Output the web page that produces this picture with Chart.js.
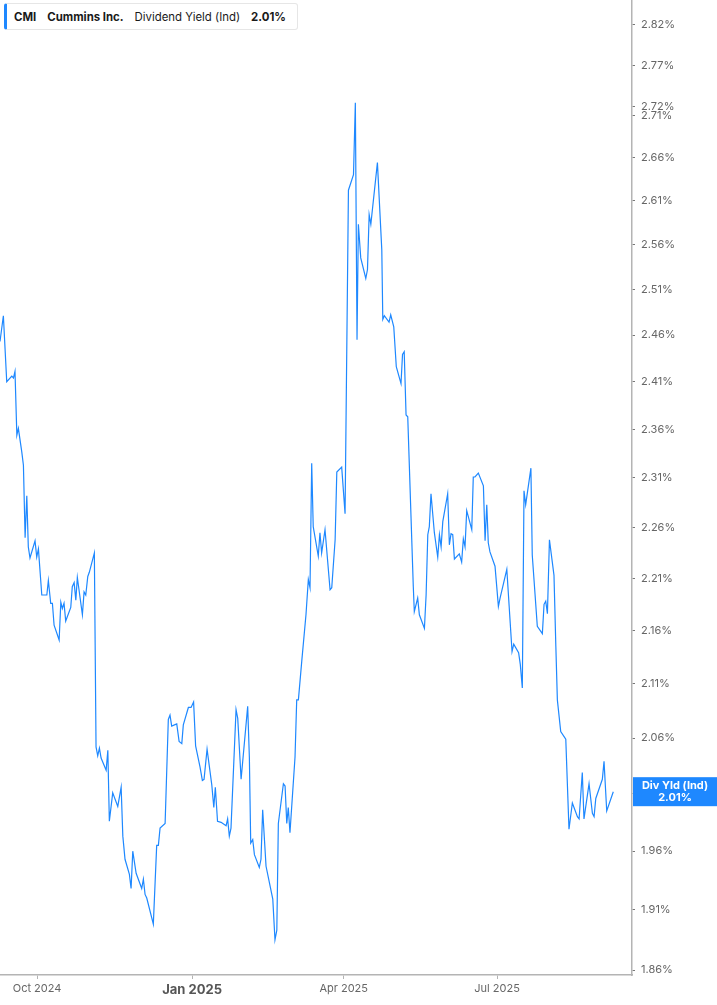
<!DOCTYPE html>
<html lang="en">
<head>
  <meta charset="UTF-8" />
  <title>CMI Dividend Yield</title>
  <script src="https://cdn.jsdelivr.net/npm/chart.js"></script>
  <style>
    html, body { margin: 0; padding: 0; background: #fff; }
    #wrap { position: relative; width: 717px; height: 1005px; }
    #legend {
      position: absolute; left: 4px; top: 3px; height: 27px; width: 294px;
      box-sizing: border-box; border: 1px solid #e6e6e6; border-left: 3px solid #1e88ff;
      border-radius: 3px; background: #fff;
      font-family: Inter, "Open Sans", sans-serif; font-size: 11.4px; color: #1a1a1a;
      display: flex; align-items: center; padding-left: 7px; white-space: nowrap;
    }
    #legend b { font-weight: 700; }
    #legend span { margin-right: 11px; }
  </style>
</head>
<body>
  <div id="wrap">
    <canvas id="yieldChart" width="717" height="1005"></canvas>
    <div id="legend">
      <span><b>CMI</b></span><span><b>Cummins Inc.</b></span><span>Dividend Yield (Ind)</span><span><b>2.01%</b></span>
    </div>
  </div>

  <script>
    // days since 2024-10-01
    const days = [
      -22.0, -20.0, -18.0, -15.0, -14.0, -13.1, -12.0, -11.1, -9.1, -8.1,
      -7.1, -6.1, -5.2, -4.2, -1.2, -0.2, 0.8, 2.8, 5.8, 6.7,
      8.1, 9.1, 10.1, 13.1, 14.1, 15.0, 16.0, 17.0, 20.0, 20.9,
      22.0, 23.0, 23.9, 26.9, 27.9, 28.9, 30.1, 31.0, 34.0, 35.0,
      36.0, 37.0, 38.0, 41.0, 42.0, 42.9, 44.9, 47.9, 49.9, 50.9,
      52.2, 54.8, 55.8, 56.8, 58.8, 62.1, 63.1, 64.1, 65.1, 69.0,
      71.0, 72.0, 73.0, 76.0, 77.9, 78.9, 79.9, 82.9, 84.3, 85.9,
      86.8, 89.8, 91.4, 92.9, 94.1, 96.7, 98.1, 99.1, 100.9, 103.7,
      104.9, 105.8, 107.1, 109.2, 112.2, 113.1, 114.1, 115.1, 118.1, 119.1,
      121.1, 125.0, 126.0, 126.8, 128.0, 129.0, 131.9, 132.9, 133.9, 135.9,
      139.9, 141.2, 142.3, 143.2, 146.2, 147.2, 148.2, 149.1, 150.1, 153.1,
      154.1, 155.1, 157.1, 159.6, 161.0, 162.0, 163.0, 163.9, 166.9, 167.9,
      168.9, 170.9, 173.9, 174.9, 176.9, 177.9, 180.8, 182.8, 184.8, 187.8,
      188.9, 189.9, 190.7, 192.1, 195.1, 196.1, 197.1, 198.1, 202.0, 204.6,
      205.2, 206.1, 208.9, 209.9, 211.7, 213.2, 216.0, 216.9, 217.9, 219.0,
      220.0, 223.3, 223.9, 225.9, 226.9, 229.9, 230.9, 231.9, 232.8, 233.8,
      235.8, 237.8, 238.8, 239.8, 240.8, 243.7, 244.7, 245.7, 246.7, 247.7,
      250.6, 252.0, 253.0, 254.0, 255.0, 258.0, 258.9, 259.9, 261.9, 264.9,
      265.9, 266.9, 267.8, 268.8, 271.8, 273.8, 274.8, 278.8, 281.9, 282.9,
      285.8, 286.8, 288.0, 289.0, 290.0, 293.1, 293.9, 296.9, 299.9, 300.9,
      301.9, 302.9, 304.1, 306.8, 307.9, 308.8, 310.8, 313.8, 315.7, 317.7,
      320.7, 321.7, 323.6, 324.6, 327.6, 329.6, 330.6, 331.6, 335.5, 336.5,
      338.1, 342.0
    ];

    // dividend yield, %
    const yields = [
      2.453, 2.481, 2.410, 2.416, 2.414, 2.421, 2.354, 2.361, 2.337, 2.323,
      2.250, 2.292, 2.241, 2.230, 2.247, 2.231, 2.239, 2.194, 2.194, 2.208,
      2.186, 2.186, 2.165, 2.151, 2.187, 2.181, 2.186, 2.169, 2.182, 2.202,
      2.206, 2.189, 2.211, 2.175, 2.197, 2.194, 2.212, 2.216, 2.235, 2.052,
      2.044, 2.051, 2.042, 2.031, 2.049, 1.986, 2.011, 1.999, 2.016, 1.973,
      1.953, 1.940, 1.928, 1.960, 1.941, 1.928, 1.936, 1.923, 1.920, 1.898,
      1.965, 1.965, 1.980, 1.984, 2.077, 2.081, 2.071, 2.073, 2.057, 2.055,
      2.072, 2.088, 2.088, 2.093, 2.053, 2.034, 2.022, 2.023, 2.050, 2.018,
      1.998, 2.016, 1.986, 1.985, 1.982, 1.988, 1.973, 1.980, 2.086, 2.078,
      2.023, 2.089, 2.043, 1.967, 1.970, 1.957, 1.946, 1.953, 1.996, 1.947,
      1.919, 1.885, 1.893, 1.984, 2.019, 2.017, 1.984, 1.998, 1.976, 2.043,
      2.095, 2.095, 2.131, 2.175, 2.209, 2.201, 2.325, 2.261, 2.232, 2.255,
      2.235, 2.258, 2.199, 2.201, 2.248, 2.316, 2.321, 2.274, 2.622, 2.640,
      2.725, 2.455, 2.583, 2.545, 2.522, 2.532, 2.594, 2.583, 2.654, 2.554,
      2.477, 2.481, 2.474, 2.482, 2.469, 2.426, 2.408, 2.439, 2.442, 2.375,
      2.373, 2.202, 2.178, 2.191, 2.175, 2.162, 2.194, 2.253, 2.261, 2.294,
      2.255, 2.231, 2.253, 2.241, 2.266, 2.294, 2.243, 2.254, 2.253, 2.229,
      2.234, 2.226, 2.249, 2.241, 2.277, 2.258, 2.311, 2.311, 2.315, 2.302,
      2.247, 2.283, 2.245, 2.236, 2.222, 2.183, 2.191, 2.219, 2.140, 2.147,
      2.139, 2.128, 2.106, 2.297, 2.283, 2.320, 2.233, 2.164, 2.157, 2.185,
      2.188, 2.176, 2.248, 2.213, 2.145, 2.095, 2.066, 2.059, 1.979, 2.002,
      1.990, 1.988, 2.029, 1.988, 2.019, 1.993, 1.990, 2.006, 2.023, 2.039,
      1.995, 2.012
    ];

    const xTickDays = [0, 92, 182, 273];
    const xTickLabels = ['Oct 2024', 'Jan 2025', 'Apr 2025', 'Jul 2025'];
    const yTicks = [1.86, 1.91, 1.96, 2.01, 2.06, 2.11, 2.16, 2.21, 2.26, 2.31, 2.36,
                    2.41, 2.46, 2.51, 2.56, 2.61, 2.66, 2.71, 2.72, 2.77, 2.82];

    const blue = '#1e88ff';
    const axisGrey = '#b4b4b4';
    const tickText = '#666';

    // blue box with the last value on the right axis
    const lastValuePlugin = {
      id: 'lastValue',
      afterDraw(chart) {
        const c = chart.ctx;
        const y = chart.scales.y.getPixelForValue(yields[yields.length - 1]);
        const left = chart.chartArea.right + 1;
        c.save();
        c.fillStyle = blue;
        c.fillRect(left, y - 14.5, 717 - left, 29);
        c.fillStyle = '#fff';
        c.textAlign = 'center';
        c.textBaseline = 'middle';
        c.font = 'bold 11px Inter, sans-serif';
        const cx = left + (717 - left) / 2;
        c.fillText('Div Yld (Ind)', cx, y - 6);
        c.fillText(yields[yields.length - 1].toFixed(2) + '%', cx, y + 6);
        c.restore();
      }
    };

    const points = days.map((d, i) => ({ x: d, y: yields[i] }));

    new Chart(document.getElementById('yieldChart'), {
      type: 'line',
      data: {
        datasets: [{
          data: points,
          borderColor: blue,
          borderWidth: 1.2,
          pointRadius: 0,
          tension: 0,
          fill: false
        }]
      },
      options: {
        responsive: false,
        animation: false,
        layout: { padding: 0 },
        plugins: { legend: { display: false }, tooltip: { enabled: false } },
        scales: {
          x: {
            type: 'linear',
            min: -22,
            max: 353.1,
            afterBuildTicks: s => { s.ticks = xTickDays.map(v => ({ value: v })); },
            afterFit: s => { s.height = 30; s.paddingLeft = 0; s.paddingRight = 0; },
            border: { color: axisGrey, width: 1.5 },
            grid: { drawOnChartArea: false, tickLength: 4, color: axisGrey },
            ticks: {
              maxRotation: 0,
              autoSkip: false,
              padding: 3,
              color: ctx => ctx.tick && ctx.tick.value === 92 ? '#555' : tickText,
              font: ctx => ctx.tick && ctx.tick.value === 92
                ? { family: 'Inter', size: 13, weight: 'bold' }
                : { family: 'Inter', size: 11 },
              callback: v => xTickLabels[xTickDays.indexOf(v)] || ''
            }
          },
          y: {
            type: 'logarithmic',
            position: 'right',
            min: 1.856,
            max: 2.851,
            afterBuildTicks: s => { s.ticks = yTicks.map(v => ({ value: v })); },
            afterFit: s => { s.width = 85; s.paddingTop = 0; s.paddingBottom = 0; },
            border: { color: axisGrey, width: 1.5 },
            grid: { drawOnChartArea: false, tickLength: 3, color: '#777' },
            ticks: {
              autoSkip: false,
              padding: 6,
              color: tickText,
              font: { family: 'Inter', size: 11 },
              callback: v => v.toFixed(2) + '%'
            }
          }
        }
      },
      plugins: [lastValuePlugin]
    });
  </script>
</body>
</html>
